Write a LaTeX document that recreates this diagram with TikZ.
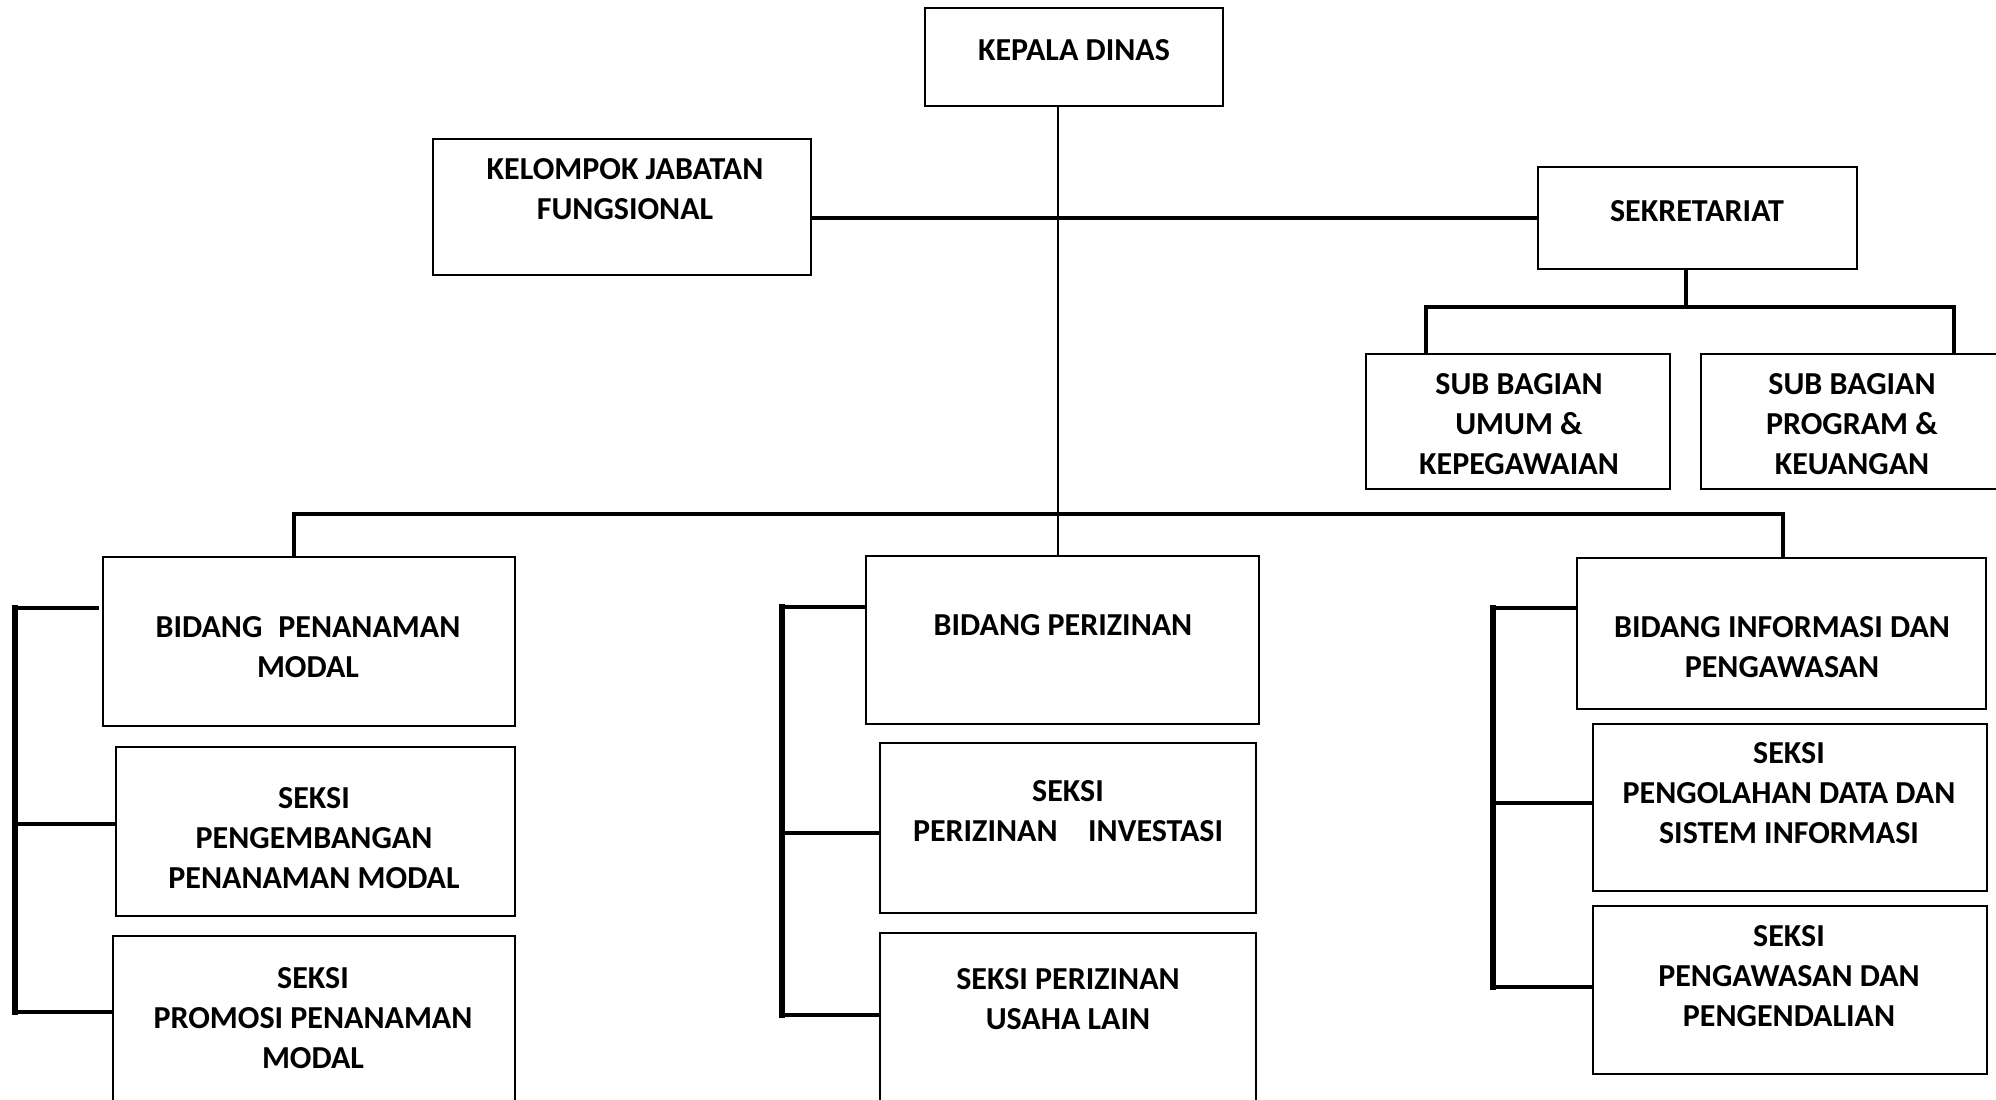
\documentclass[tikz,border=0pt]{standalone}
\usepackage{fontspec}
\setmainfont{Carlito}
\begin{document}
\begin{tikzpicture}[x=0.01cm,y=-0.01cm,
  box/.style={draw, line width=0.6pt, inner sep=0pt, outer sep=0pt},
  lbl/.style={font=\bfseries\fontsize{9.1}{11.3}\selectfont, align=center, inner sep=0pt},
  thin/.style={line width=0.6pt},
  conn/.style={line width=0.9pt},
  bus/.style={line width=1.5pt}]
\useasboundingbox (0,0) rectangle (1996,1099);
\clip (0,0) rectangle (1996,1099);
% boxes
\node[box, minimum width=2.98cm, minimum height=0.98cm] (kepala) at (1074,57) {};
\node[box, minimum width=3.78cm, minimum height=1.36cm] (kelompok) at (622,207) {};
\node[box, minimum width=3.19cm, minimum height=1.02cm] (sek) at (1697.5,218) {};
\node[box, minimum width=3.04cm, minimum height=1.35cm] (subumum) at (1518,421.5) {};
\node[box, minimum width=3.02cm, minimum height=1.35cm] (subprog) at (1852,421.5) {};
\node[box, minimum width=4.12cm, minimum height=1.69cm] (bpm) at (309,641.5) {};
\node[box, minimum width=3.99cm, minimum height=1.69cm] (spengemb) at (315.5,831.5) {};
\node[box, minimum width=4.02cm, minimum height=1.74cm] (spromosi) at (314,1023) {};
\node[box, minimum width=3.93cm, minimum height=1.68cm] (bperiz) at (1062.5,640) {};
\node[box, minimum width=3.76cm, minimum height=1.70cm] (sinvest) at (1068,828) {};
\node[box, minimum width=3.76cm, minimum height=1.77cm] (susaha) at (1068,1021.5) {};
\node[box, minimum width=4.09cm, minimum height=1.51cm] (binfo) at (1781.5,633.5) {};
\node[box, minimum width=3.94cm, minimum height=1.67cm] (solah) at (1790,807.5) {};
\node[box, minimum width=3.94cm, minimum height=1.68cm] (sawas) at (1790,990) {};
% labels
\node[lbl] (tkepala) at (1074,50) {KEPALA DINAS};
\node[lbl] (tkelompok) at (625,189) {KELOMPOK JABATAN\\FUNGSIONAL};
\node[lbl] (tsek) at (1697,211) {SEKRETARIAT};
\node[lbl] (tsubumum) at (1519,424) {SUB BAGIAN\\UMUM \&\\KEPEGAWAIAN};
\node[lbl] (tsubprog) at (1852,424) {SUB BAGIAN\\PROGRAM \&\\KEUANGAN};
\node[lbl] (tbpm) at (308,647) {BIDANG\hspace{0.5em}PENANAMAN\\MODAL};
\node[lbl] (tspengemb) at (314,838) {SEKSI\\PENGEMBANGAN\\PENANAMAN MODAL};
\node[lbl] (tspromosi) at (313,1018) {SEKSI\\PROMOSI PENANAMAN\\MODAL};
\node[lbl] (tbperiz) at (1063,625) {BIDANG PERIZINAN};
\node[lbl] (tsinvest) at (1068,811) {SEKSI\\PERIZINAN\hspace{0.95em}INVESTASI};
\node[lbl] (tsusaha) at (1068,999) {SEKSI PERIZINAN\\USAHA LAIN};
\node[lbl] (tbinfo) at (1782,647) {BIDANG INFORMASI DAN\\PENGAWASAN};
\node[lbl] (tsolah) at (1789,793) {SEKSI\\PENGOLAHAN DATA DAN\\SISTEM INFORMASI};
\node[lbl] (tsawas) at (1789,976) {SEKSI\\PENGAWASAN DAN\\PENGENDALIAN};
% junction coordinates
\coordinate (mx) at (1058,514);
\coordinate (mL) at (294,514);
\coordinate (mR) at (1783,514);
\coordinate (sb) at (1686,307);
\coordinate (sbL) at (1426,307);
\coordinate (sbR) at (1954,307);
\coordinate (l1) at (15,608);
\coordinate (l2) at (15,824);
\coordinate (l3) at (15,1012);
\coordinate (c1) at (782,607);
\coordinate (c2) at (782,833);
\coordinate (c3) at (782,1015);
\coordinate (r1) at (1493,608);
\coordinate (r2) at (1493,803);
\coordinate (r3) at (1493,987);
% connectors
\draw[thin] (kepala.south -| mx) -- (bperiz.north -| mx);
\draw[conn] (kelompok.east |- sek.west) -- (sek.west);
\draw[conn] (sek.south -| sb) -- (sb);
\draw[conn] (sbL |- subumum.north) -- (sbL) -- (sbR) -- (sbR |- subprog.north);
\draw[conn] (mL |- bpm.north) -- (mL) -- (mR) -- (mR |- binfo.north);
% left column
\draw[bus, line cap=rect] (l1) -- (l3);
\draw[conn] (l1) -- ([xshift=-0.04cm]bpm.west |- l1);
\draw[conn] (l2) -- (spengemb.west |- l2);
\draw[conn] (l3) -- (spromosi.west |- l3);
% middle column
\draw[bus, line cap=rect] (c1) -- (c3);
\draw[conn] (c1) -- (bperiz.west |- c1);
\draw[conn] (c2) -- (sinvest.west |- c2);
\draw[conn] (c3) -- (susaha.west |- c3);
% right column
\draw[bus, line cap=rect] (r1) -- (r3);
\draw[conn] (r1) -- (binfo.west |- r1);
\draw[conn] (r2) -- (solah.west |- r2);
\draw[conn] (r3) -- (sawas.west |- r3);
\end{tikzpicture}
\end{document}
